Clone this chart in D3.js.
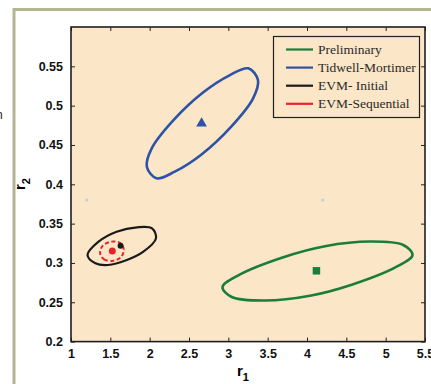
<!DOCTYPE html>
<html>
<head>
<meta charset="utf-8">
<script src="https://cdn.jsdelivr.net/npm/d3@7"></script>
<style>
  html, body { margin: 0; padding: 0; background: #fff; }
  svg { display: block; }
</style>
</head>
<body>
<div id="chart"></div>
<script>
// confidence regions, [r1, r2]
const preliminary = [[2.926, 0.2694], [3.127, 0.2843], [3.699, 0.3073], [4.229, 0.3213], [4.801, 0.3272],
  [5.224, 0.3228], [5.341, 0.3101], [5.140, 0.2952], [4.568, 0.2722], [4.038, 0.2582], [3.466, 0.2522], [3.043, 0.2567]];
const tidwell = [[3.254, 0.5474], [3.377, 0.5325], [3.315, 0.5093], [3.040, 0.4737], [2.659, 0.4380], [2.319, 0.4161],
  [2.087, 0.4076], [1.964, 0.4224], [2.026, 0.4457], [2.300, 0.4813], [2.682, 0.5170], [3.021, 0.5389]];
const evmInitial = [[1.21, 0.310], [1.31, 0.2995], [1.47, 0.2974], [1.71, 0.3037], [1.92, 0.3143], [2.08, 0.3313],
  [2.03, 0.344], [1.84, 0.3453], [1.58, 0.3397], [1.35, 0.327]];
const evmSequential = [[1.37, 0.3122], [1.42, 0.3046], [1.54, 0.3028], [1.64, 0.3079], [1.67, 0.3173],
  [1.62, 0.3257], [1.505, 0.327], [1.40, 0.3215]];

const estimates = { preliminary: [4.12, 0.290], tidwell: [2.66, 0.4775], evmInitial: [1.63, 0.3219], evmSequential: [1.525, 0.3152] };
const greyDots = [[1.2, 0.38], [4.2, 0.38]];

const legendNames = ['Preliminary', 'Tidwell-Mortimer', 'EVM- Initial', 'EVM-Sequential'];
const legendColors = ['#1a7d3c', '#2d52a6', '#1a1a1a', '#e8232a'];
const xTicks = [1, 1.5, 2, 2.5, 3, 3.5, 4, 4.5, 5, 5.5];
const yTicks = [0.2, 0.25, 0.3, 0.35, 0.4, 0.45, 0.5, 0.55];

const width = 431, height = 384;
const plot = { left: 71, right: 425, top: 27, bottom: 341.6 };

const svg = d3.select('#chart').append('svg').attr('width', width).attr('height', height);

// outer panel frame
svg.append('rect')
    .attr('x', 14).attr('y', 9.5).attr('width', 440).attr('height', 400)
    .attr('fill', '#fff').attr('stroke', '#b5b691').attr('stroke-width', 3);

const x = d3.scaleLinear().domain([1, 5.5]).range([plot.left, plot.right]);
const y = d3.scaleLinear().domain([0.2, 0.6]).range([plot.bottom, plot.top]);

svg.append('rect')
    .attr('x', plot.left).attr('y', plot.top)
    .attr('width', plot.right - plot.left).attr('height', plot.bottom - plot.top)
    .attr('fill', '#fbe6c7');

// axes with inward ticks on all four sides
const tickFont = (g) => g.selectAll('text')
    .attr('font-family', '"Liberation Sans", Arial, sans-serif')
    .attr('font-weight', 'bold').attr('font-size', '12.5px').attr('fill', '#111');

svg.append('g').attr('transform', 'translate(0,' + plot.bottom + ')')
    .call(d3.axisBottom(x).tickValues(xTicks).tickFormat(d3.format('')).tickSizeInner(-4).tickSizeOuter(0).tickPadding(8))
    .call(tickFont).call((g) => g.select('.domain').remove());
svg.append('g').attr('transform', 'translate(0,' + plot.top + ')')
    .call(d3.axisTop(x).tickValues(xTicks).tickFormat('').tickSizeInner(-4).tickSizeOuter(0))
    .call((g) => g.select('.domain').remove());
svg.append('g').attr('transform', 'translate(' + plot.left + ',0)')
    .call(d3.axisLeft(y).tickValues(yTicks).tickFormat(d3.format('')).tickSizeInner(-4).tickSizeOuter(0).tickPadding(8))
    .call(tickFont).call((g) => g.select('.domain').remove());
svg.append('g').attr('transform', 'translate(' + plot.right + ',0)')
    .call(d3.axisRight(y).tickValues(yTicks).tickFormat('').tickSizeInner(-4).tickSizeOuter(0))
    .call((g) => g.select('.domain').remove());
svg.selectAll('.tick line').attr('stroke', '#222');

svg.append('rect')
    .attr('x', plot.left).attr('y', plot.top)
    .attr('width', plot.right - plot.left).attr('height', plot.bottom - plot.top)
    .attr('fill', 'none').attr('stroke', '#1e1e1e').attr('stroke-width', 1.6);

// axis titles
const xTitle = svg.append('text')
    .attr('x', 243).attr('y', 376)
    .attr('text-anchor', 'middle')
    .attr('font-family', '"Liberation Sans", Arial, sans-serif').attr('font-weight', 'bold').attr('font-size', '15px');
xTitle.append('tspan').text('r');
xTitle.append('tspan').attr('dy', 5).attr('font-size', '11px').text('1');

const yTitle = svg.append('text')
    .attr('transform', 'translate(25,184) rotate(-90)')
    .attr('text-anchor', 'middle')
    .attr('font-family', '"Liberation Sans", Arial, sans-serif').attr('font-weight', 'bold').attr('font-size', '15px');
yTitle.append('tspan').text('r');
yTitle.append('tspan').attr('dy', 5).attr('font-size', '11px').text('2');

// cut-off text at the left edge
svg.append('text').attr('x', -4).attr('y', 119)
    .attr('font-family', '"Liberation Sans", Arial, sans-serif').attr('font-size', '12px').attr('fill', '#222').text('n');

svg.selectAll('.grey').data(greyDots).enter().append('circle')
    .attr('cx', (d) => x(d[0])).attr('cy', (d) => y(d[1])).attr('r', 1.6).attr('fill', '#c9cdd6');

const line = d3.line().x((d) => x(d[0])).y((d) => y(d[1])).curve(d3.curveCatmullRomClosed);

svg.append('path').attr('d', line(preliminary)).attr('fill', 'none').attr('stroke', legendColors[0]).attr('stroke-width', 2.6);
svg.append('path').attr('d', line(tidwell)).attr('fill', 'none').attr('stroke', legendColors[1]).attr('stroke-width', 2.6);
svg.append('path').attr('d', line(evmInitial)).attr('fill', 'none').attr('stroke', legendColors[2]).attr('stroke-width', 2.2);
svg.append('path').attr('d', line(evmSequential)).attr('fill', 'none').attr('stroke', legendColors[3]).attr('stroke-width', 2)
    .attr('stroke-dasharray', '4,2.5');

// point estimates
svg.append('path').attr('d', d3.symbol(d3.symbolSquare, 56)())
    .attr('transform', 'translate(' + x(estimates.preliminary[0]) + ',' + y(estimates.preliminary[1]) + ')')
    .attr('fill', legendColors[0]);
svg.append('path').attr('d', d3.symbol(d3.symbolTriangle, 50)())
    .attr('transform', 'translate(' + x(estimates.tidwell[0]) + ',' + y(estimates.tidwell[1]) + ')')
    .attr('fill', legendColors[1]);
svg.append('circle').attr('cx', x(estimates.evmInitial[0])).attr('cy', y(estimates.evmInitial[1])).attr('r', 3)
    .attr('fill', legendColors[2]);
svg.append('circle').attr('cx', x(estimates.evmSequential[0])).attr('cy', y(estimates.evmSequential[1])).attr('r', 3.5)
    .attr('fill', legendColors[3]);

// legend
const legend = svg.append('g');
legend.append('rect')
    .attr('x', 273.5).attr('y', 36.5).attr('width', 146).attr('height', 81)
    .attr('fill', '#fbe6c7').attr('stroke', '#222').attr('stroke-width', 1.2);
legendNames.forEach((name, i) => {
  const ly = 49.5 + i * 18.1;
  legend.append('line').attr('x1', 286).attr('x2', 313).attr('y1', ly).attr('y2', ly)
      .attr('stroke', legendColors[i]).attr('stroke-width', 2.2);
  legend.append('text').attr('x', 318).attr('y', ly + 4.5)
      .attr('font-family', '"Liberation Serif", "Times New Roman", serif').attr('font-size', '13.5px')
      .attr('fill', '#2a2a2a').text(name);
});
</script>
</body>
</html>
